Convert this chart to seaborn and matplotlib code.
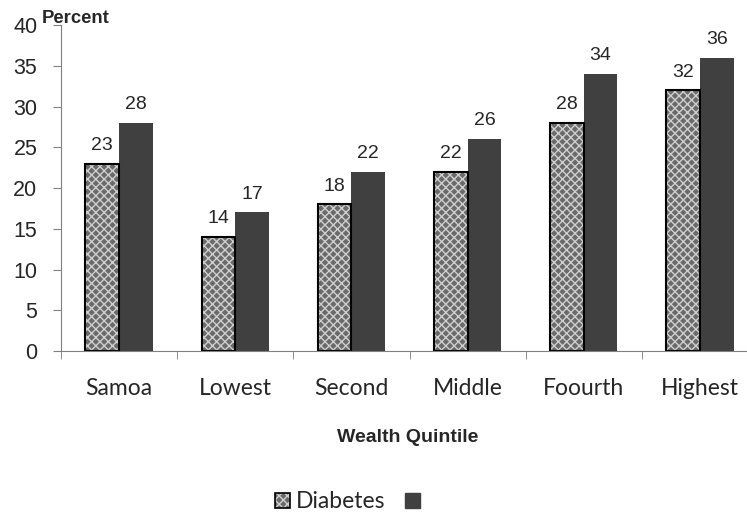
import pandas as pd
import numpy as np
import matplotlib.pyplot as plt
import matplotlib.patches as mpatches
from matplotlib.legend_handler import HandlerTuple
from matplotlib.ticker import FixedLocator
import seaborn as sns

sns.set_style('white')
plt.rcParams['font.family'] = ['Liberation Sans', 'DejaVu Sans']

categories = ['Samoa', 'Lowest', 'Second', 'Middle', 'Foourth', 'Highest']
diabetes = [23, 14, 18, 22, 28, 32]
second_series = [28, 17, 22, 26, 34, 36]
series_names = ['Diabetes', ' ']

df = pd.DataFrame({
    'category': categories * 2,
    'series': [series_names[0]] * len(categories) + [series_names[1]] * len(categories),
    'value': diabetes + second_series,
})

hatch_face = '#6a6a6a'
hatch_line = '#cfcfcf'
dark = '#404040'

fig = plt.figure(figsize=(7.47, 5.15), dpi=100)
ax = fig.add_axes([0.0817, 0.3184, 0.933, 0.633])

sns.barplot(data=df, x='category', y='value', hue='series', hue_order=series_names,
            order=categories, palette=[hatch_face, dark], width=0.58, gap=0,
            saturation=1, legend=False, ax=ax, linewidth=0)

n = len(categories)
hatched_bars = ax.patches[:n]
dark_bars = ax.patches[n:2 * n]
for p in hatched_bars:
    p.set_hatch('xxxx')
    p.set_edgecolor(hatch_line)
    p.set_linewidth(0)
    # black outline drawn over the hatched bar
    ax.add_patch(mpatches.Rectangle(p.get_xy(), p.get_width(), p.get_height(),
                                    fill=False, edgecolor='black', linewidth=1.5))
for p in dark_bars:
    p.set_edgecolor(dark)

for p, v in zip(hatched_bars + dark_bars, diabetes + second_series):
    ax.annotate(str(v), (p.get_x() + p.get_width() / 2, p.get_height()),
                xytext=(0, 7), textcoords='offset points', ha='center', va='bottom',
                fontsize=14)

ax.set_ylim(0, 40)
ax.set_xlim(-0.5, n - 0.5)
ax.set_yticks(range(0, 41, 5))
ax.tick_params(axis='y', labelsize=15.5, length=6, color='#808080', direction='out',
               left=True, pad=11)
ax.xaxis.set_minor_locator(FixedLocator(np.arange(-0.5, n, 1)))
ax.tick_params(axis='x', which='minor', length=6, color='#808080', bottom=True, direction='out')
ax.tick_params(axis='x', which='major', length=0, pad=19.5)
for lbl in ax.get_xticklabels():
    lbl.set_family(['Lato', 'DejaVu Sans'])
    lbl.set_fontsize(16.5)

sns.despine(ax=ax)
ax.spines['left'].set_color('#808080')
ax.spines['bottom'].set_color('#808080')
ax.spines['bottom'].set_clip_on(False)

ax.set_ylabel('')
ax.set_xlabel('')
fig.text(408 / 747, 1 - 437 / 515, 'Wealth Quintile', fontsize=14, fontweight='bold',
         ha='center', va='center')
fig.text(42 / 747, 1 - 23 / 515, 'Percent', fontsize=13.3, fontweight='bold',
         va='baseline', ha='left')

h_hatch = mpatches.Patch(facecolor=hatch_face, hatch='xxxx', edgecolor=hatch_line, linewidth=0)
h_outline = mpatches.Patch(fill=False, edgecolor='black', linewidth=1.2)
h_dark = mpatches.Patch(facecolor=dark, edgecolor=dark)
leg = fig.legend([(h_hatch, h_outline), h_dark], series_names,
                 handler_map={tuple: HandlerTuple(ndivide=1)},
                 loc='center left', bbox_to_anchor=(264 / 747, 13 / 515), ncol=2,
                 frameon=False, borderpad=0, handlelength=0.65, handleheight=0.65,
                 handletextpad=0.26, columnspacing=0.83,
                 prop={'family': ['Lato', 'DejaVu Sans'], 'size': 16.5})

fig.savefig('out.png', dpi=100)
